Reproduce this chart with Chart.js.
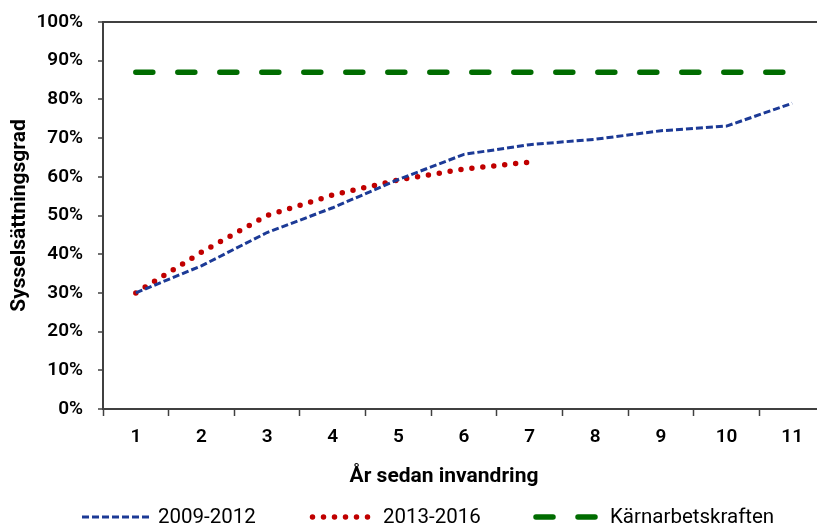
<!DOCTYPE html>
<html>
<head>
<meta charset="utf-8">
<script src="https://cdn.jsdelivr.net/npm/chart.js@4.4.1/dist/chart.umd.min.js"></script>
<style>
  html, body { margin: 0; padding: 0; background: #fff; overflow: hidden; }
  canvas { display: block; }
</style>
</head>
<body>
<canvas id="sysselsattning" width="830" height="528"></canvas>
<script>
const years = ["1", "2", "3", "4", "5", "6", "7", "8", "9", "10", "11"];
const kohort2009 = [30, 37, 45.6, 52, 59.3, 65.8, 68.3, 69.7, 71.9, 73.1, 79];
const kohort2013 = [30, 40.5, 50, 55.3, 59.2, 62, 63.8];
const karnarbetskraften = [87, 87, 87, 87, 87, 87, 87, 87, 87, 87, 87];
const yTicks = [0, 10, 20, 30, 40, 50, 60, 70, 80, 90, 100];

const axisColor = "#404040";
const fontFamily = "Roboto, 'DejaVu Sans', sans-serif";

// legend + x axis title drawn by hand so they can sit where the original has them
const legendSpots = [
  { x1: 82, x2: 152, textX: 158 },
  { x1: 312.5, x2: 369, textX: 383 },
  { x1: 536, x2: 600, textX: 610 }
];

const bottomTexts = {
  id: "bottomTexts",
  afterDraw(chart) {
    const c = chart.ctx;
    c.save();
    c.fillStyle = "#000";
    c.textBaseline = "middle";
    c.font = "bold 21px " + fontFamily;
    c.textAlign = "center";
    c.fillText("År sedan invandring", 444, 477);

    c.font = "20.5px " + fontFamily;
    c.textAlign = "left";
    chart.data.datasets.forEach((ds, i) => {
      const spot = legendSpots[i];
      const y = 517;
      c.save();
      c.strokeStyle = ds.borderColor;
      c.lineWidth = ds.borderWidth;
      c.lineCap = ds.borderCapStyle || "butt";
      c.setLineDash(ds.borderDash || []);
      c.beginPath();
      c.moveTo(spot.x1, y);
      c.lineTo(spot.x2, y);
      c.stroke();
      c.restore();
      c.fillText(ds.label, spot.textX, y + 1);
    });
    c.restore();
  }
};

const ctx = document.getElementById("sysselsattning");

new Chart(ctx, {
  type: "line",
  data: {
    labels: years,
    datasets: [
      {
        label: "2009-2012",
        data: kohort2009,
        borderColor: "#1c3a96",
        borderWidth: 3,
        borderDash: [7, 3],
        pointRadius: 0,
        tension: 0
      },
      {
        label: "2013-2016",
        data: kohort2013,
        borderColor: "#c00000",
        borderWidth: 5.5,
        borderDash: [0, 11],
        borderCapStyle: "round",
        pointRadius: 0,
        tension: 0
      },
      {
        label: "Kärnarbetskraften",
        data: karnarbetskraften,
        borderColor: "#006c00",
        borderWidth: 5.5,
        borderDash: [17, 25],
        borderCapStyle: "round",
        pointRadius: 0,
        tension: 0
      }
    ]
  },
  options: {
    responsive: false,
    animation: false,
    layout: {
      padding: { top: 0, right: 5, bottom: 0, left: 0 }
    },
    plugins: {
      legend: { display: false },
      tooltip: { enabled: false }
    },
    scales: {
      x: {
        offset: true,
        afterFit(scale) {
          scale.height = 119;
        },
        grid: {
          offset: true,
          drawOnChartArea: false,
          tickLength: 7,
          tickColor: axisColor,
          tickWidth: 1.5
        },
        border: { color: axisColor, width: 2 },
        ticks: {
          color: "#000",
          padding: 10,
          font: { family: fontFamily, size: 19, weight: 600 }
        }
      },
      y: {
        min: 0,
        max: 100,
        afterFit(scale) {
          scale.width = 103;
          scale.paddingTop = 22;
        },
        afterBuildTicks(scale) {
          scale.ticks = yTicks.map(v => ({ value: v }));
        },
        grid: {
          color: c => (c.tick && c.tick.value === 100 ? axisColor : "rgba(0,0,0,0)"),
          lineWidth: 2,
          tickLength: 5,
          tickColor: axisColor,
          tickWidth: 1.5
        },
        border: { color: axisColor, width: 2 },
        ticks: {
          color: "#000",
          padding: 15,
          font: { family: fontFamily, size: 19, weight: 600 },
          callback: v => v + "%"
        },
        title: {
          display: true,
          text: "Sysselsättningsgrad",
          color: "#000",
          padding: { top: 7, bottom: 0 },
          font: { family: fontFamily, size: 21, weight: "bold" }
        }
      }
    }
  },
  plugins: [bottomTexts]
});
</script>
</body>
</html>
